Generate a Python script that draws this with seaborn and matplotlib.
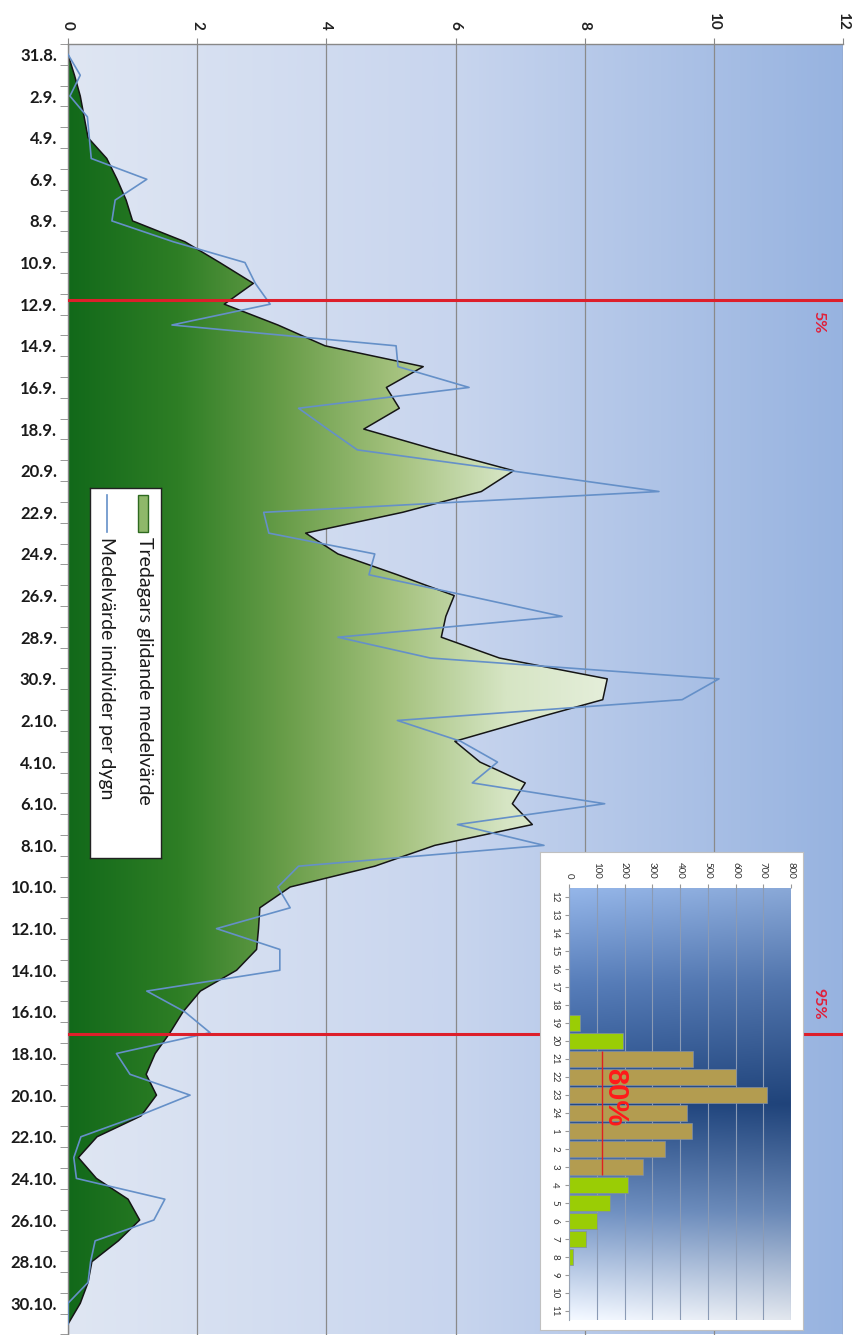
import numpy as np
import pandas as pd
import matplotlib
matplotlib.use("Agg")
import matplotlib.pyplot as plt
import seaborn as sns
from matplotlib.colors import LinearSegmentedColormap, to_rgb
from matplotlib.patches import Rectangle

# ---------------- data ----------------
dates = ["31.8.",
         "1.9.", "2.9.", "3.9.", "4.9.", "5.9.", "6.9.", "7.9.", "8.9.", "9.9.", "10.9.",
         "11.9.", "12.9.", "13.9.", "14.9.", "15.9.", "16.9.", "17.9.", "18.9.", "19.9.", "20.9.",
         "21.9.", "22.9.", "23.9.", "24.9.", "25.9.", "26.9.", "27.9.", "28.9.", "29.9.", "30.9.",
         "1.10.", "2.10.", "3.10.", "4.10.", "5.10.", "6.10.", "7.10.", "8.10.", "9.10.", "10.10.",
         "11.10.", "12.10.", "13.10.", "14.10.", "15.10.", "16.10.", "17.10.", "18.10.", "19.10.", "20.10.",
         "21.10.", "22.10.", "23.10.", "24.10.", "25.10.", "26.10.", "27.10.", "28.10.", "29.10.", "30.10.",
         "31.10."]

smoothed_avg = [0.0, 0.10, 0.19, 0.25, 0.31, 0.60, 0.76, 0.90, 1.00, 1.81,
                2.35, 2.87, 2.42, 3.25, 3.98, 5.50, 4.93, 5.13, 4.58, 5.70,
                6.90, 6.40, 5.18, 3.68, 4.18, 5.10, 5.98, 5.85, 5.78, 6.68,
                8.35, 8.28, 7.11, 5.99, 6.38, 7.08, 6.88, 7.19, 5.68, 4.75,
                3.44, 2.97, 2.95, 2.92, 2.61, 2.05, 1.78, 1.58, 1.35, 1.21,
                1.37, 1.13, 0.45, 0.16, 0.44, 0.93, 1.11, 0.78, 0.37, 0.31,
                0.19, 0.0]

daily_avg = [0.0, 0.19, 0.03, 0.30, 0.33, 0.36, 1.22, 0.73, 0.68, 1.63,
             2.74, 2.90, 3.13, 1.61, 5.08, 5.11, 6.21, 3.57, 4.02, 4.48,
             6.85, 9.15, 3.03, 3.11, 4.75, 4.66, 6.17, 7.65, 4.18, 5.61,
             10.08, 9.51, 5.10, 6.08, 6.65, 6.26, 8.31, 6.03, 7.37, 3.57,
             3.25, 3.44, 2.30, 3.28, 3.28, 1.22, 1.81, 2.20, 0.75, 0.96,
             1.89, 1.09, 0.20, 0.09, 0.13, 1.50, 1.33, 0.42, 0.35, 0.31,
             0.0, 0.0]

value_ticks = [0, 2, 4, 6, 8, 10, 12]
p5_day = 11.8
p95_day = 47.07
p_labels = ["5%", "95%"]

hours = ["12", "13", "14", "15", "16", "17", "18", "19", "20", "21", "22", "23",
         "24", "1", "2", "3", "4", "5", "6", "7", "8", "9", "10", "11"]
hour_counts = [0, 0, 0, 0, 0, 0, 0, 38, 195, 448, 602, 715,
               424, 442, 345, 265, 213, 149, 101, 63, 14, 0, 0, 0]
hour_group = ["edge"] * 9 + ["core"] * 7 + ["edge"] * 8
inset_ticks = [0, 100, 200, 300, 400, 500, 600, 700, 800]
core_line_value = 118
core_label = "80%"

legend_labels = ["Tredagars glidande medelvärde", "Medelvärde individer per dygn"]

# ---------------- style ----------------
plt.rcParams['font.family'] = ['Lato', 'DejaVu Sans']

W, H = 858, 1335
fig = plt.figure(figsize=(W / 100, H / 100), dpi=100)
fig.patch.set_facecolor('white')


def fx(px):
    return px / W


def fy(py):
    return 1 - py / H


n = len(dates)
pos = np.arange(n)
df = pd.DataFrame({'pos': pos, 'date': dates,
                   'smoothed': smoothed_avg, 'daily': daily_avg})

ax = fig.add_axes([fx(68), fy(1334.5), (843 - 68) / W, (1334.5 - 44) / H])

grad = np.linspace(0, 1, 512).reshape(1, -1)
bg_cmap = LinearSegmentedColormap.from_list('bg', ['#dfe6f3', '#c8d5ee', '#97b3e0'])
ax.imshow(grad, cmap=bg_cmap, extent=[0, 12, n - 0.5, -0.5], aspect='auto',
          zorder=0, interpolation='bilinear')

green_cmap = LinearSegmentedColormap.from_list(
    'gr', ['#12691a', '#2e7e25', '#6a9e4a', '#a5c27e', '#d6e5c4', '#e6efdc'])
poly = ax.fill_betweenx(df['pos'], 0, df['smoothed'], facecolor='none',
                        edgecolor='none', zorder=1)
gim = ax.imshow(grad, cmap=green_cmap, extent=[0, 8.5, n - 0.5, -0.5],
                aspect='auto', zorder=1, interpolation='bilinear')
gim.set_clip_path(poly.get_paths()[0], transform=ax.transData)

sns.lineplot(data=df, x='smoothed', y='pos', orient='y', estimator=None,
             color='#151515', lw=1.1, ax=ax, zorder=2)
sns.lineplot(data=df, x='daily', y='pos', orient='y', estimator=None,
             color='#6590c8', lw=1.2, ax=ax, zorder=3)

ax.axhline(p5_day, color='#dd1f2b', lw=2.2, zorder=4)
ax.axhline(p95_day, color='#dd1f2b', lw=2.2, zorder=4)
ax.text(11.62, 12.85, p_labels[0], rotation=-90, color='#e0203a', fontsize=11.5,
        fontweight='bold', ha='center', va='center', zorder=4)
ax.text(11.62, 45.6, p_labels[1], rotation=-90, color='#e0203a', fontsize=11.5,
        fontweight='bold', ha='center', va='center', zorder=4)

ax.set_xlim(0, 12)
ax.set_ylim(n - 0.5, -0.5)
ax.set_xlabel('')
ax.set_ylabel('')
ax.xaxis.tick_top()
ax.set_xticks(value_ticks)
ax.set_xticklabels([str(v) for v in value_ticks], rotation=-90, fontsize=11,
                   fontweight='bold', color='#222222')
ax.tick_params(axis='x', length=4, color='#888888', pad=6)
ax.set_yticks(pos[::2])
ax.set_yticklabels(dates[::2], fontsize=12, fontweight='bold', color='#1a1a1a')
ax.set_yticks(np.arange(-0.5, n, 1), minor=True)
ax.tick_params(axis='y', which='major', length=0, pad=8)
ax.tick_params(axis='y', which='minor', length=6, color='#888888')
ax.grid(axis='x', color='#8a8a8a', lw=0.9)
ax.set_axisbelow(True)
for s in ['right', 'bottom']:
    ax.spines[s].set_visible(False)
for s in ['top', 'left']:
    ax.spines[s].set_color('#888888')
    ax.spines[s].set_linewidth(1)

# ---------------- legend ----------------
lax = fig.add_axes([fx(90), fy(858), 71 / W, 370 / H], zorder=5)
lax.set_xlim(90, 161)
lax.set_ylim(858, 488)
lax.set_xticks([])
lax.set_yticks([])
lax.set_facecolor('white')
for s in lax.spines.values():
    s.set_color('#222222')
    s.set_linewidth(1)
lax.add_patch(Rectangle((138, 495), 10, 37, facecolor='#8fb86a',
                        edgecolor='#2e6a20', lw=1))
lax.plot([107, 107], [495, 532], color='#6590c8', lw=1.2)
lax.text(144, 537, legend_labels[0], rotation=-90, ha='center', va='top',
         fontsize=14, color='#1a1a1a')
lax.text(106, 537, legend_labels[1], rotation=-90, ha='center', va='top',
         fontsize=14, color='#1a1a1a')

# ---------------- inset ----------------
bax = fig.add_axes([fx(540), fy(1330), 263 / W, 478 / H], zorder=5)
bax.set_xticks([])
bax.set_yticks([])
bax.set_facecolor('white')
for s in bax.spines.values():
    s.set_color('#c0c0c0')
    s.set_linewidth(0.8)

iax = fig.add_axes([fx(569), fy(1320), 222 / W, 432 / H], zorder=6)
rows, cols = 240, 80
tt = np.linspace(0, 1, rows)
stops_t = [0, 0.22, 0.5, 0.75, 1.0]
stop_cols = [to_rgb(c) for c in ['#8fafe0', '#5479b3', '#21467f', '#6d8dbd', '#ebf0f8']]
img = np.zeros((rows, cols, 3))
ss = np.linspace(0, 1, cols)
for ch in range(3):
    vert = np.interp(tt, stops_t, [c[ch] for c in stop_cols])
    img[:, :, ch] = vert[:, None] * (1.04 - 0.08 * ss[None, :])
img = np.clip(img, 0, 1)
iax.imshow(img, extent=[0, 800, 23.5, -0.5], aspect='auto', zorder=0,
           interpolation='bilinear')

hdf = pd.DataFrame({'hour': hours, 'count': hour_counts, 'group': hour_group})
sns.barplot(data=hdf, x='count', y='hour', hue='group', orient='h',
            palette={'core': '#b39c50', 'edge': '#9acd05'}, dodge=False,
            saturation=1, legend=False, width=0.92, ax=iax, zorder=2,
            edgecolor='#7f8ea8', linewidth=0.5)
iax.vlines(core_line_value, 8.54, 15.46, color='#e02020', lw=1, zorder=4)
iax.text(166, 11.1, core_label, rotation=-90, color='#ff1a1a', fontsize=21,
         fontweight='bold', ha='center', va='center', zorder=5,
         family=['Liberation Sans', 'DejaVu Sans'])
iax.set_xlim(0, 800)
iax.set_ylim(23.5, -0.5)
iax.set_xlabel('')
iax.set_ylabel('')
iax.xaxis.tick_top()
iax.set_xticks(inset_ticks)
iax.set_xticklabels([str(v) for v in inset_ticks], rotation=-90, fontsize=7,
                    color='#333333')
iax.set_yticks(range(len(hours)))
iax.set_yticklabels(hours, rotation=-90, fontsize=7, color='#333333',
                    va='center')
iax.tick_params(axis='x', length=3, color='#999999', pad=4)
iax.tick_params(axis='y', length=3, color='#999999', pad=4)
iax.grid(axis='x', color='#8b9bb5', lw=0.8)
iax.set_axisbelow(True)
for s in ['top', 'right', 'bottom']:
    iax.spines[s].set_visible(False)
iax.spines['left'].set_color('#9aa5b5')

fig.savefig('out.png', dpi=100, facecolor='white')
